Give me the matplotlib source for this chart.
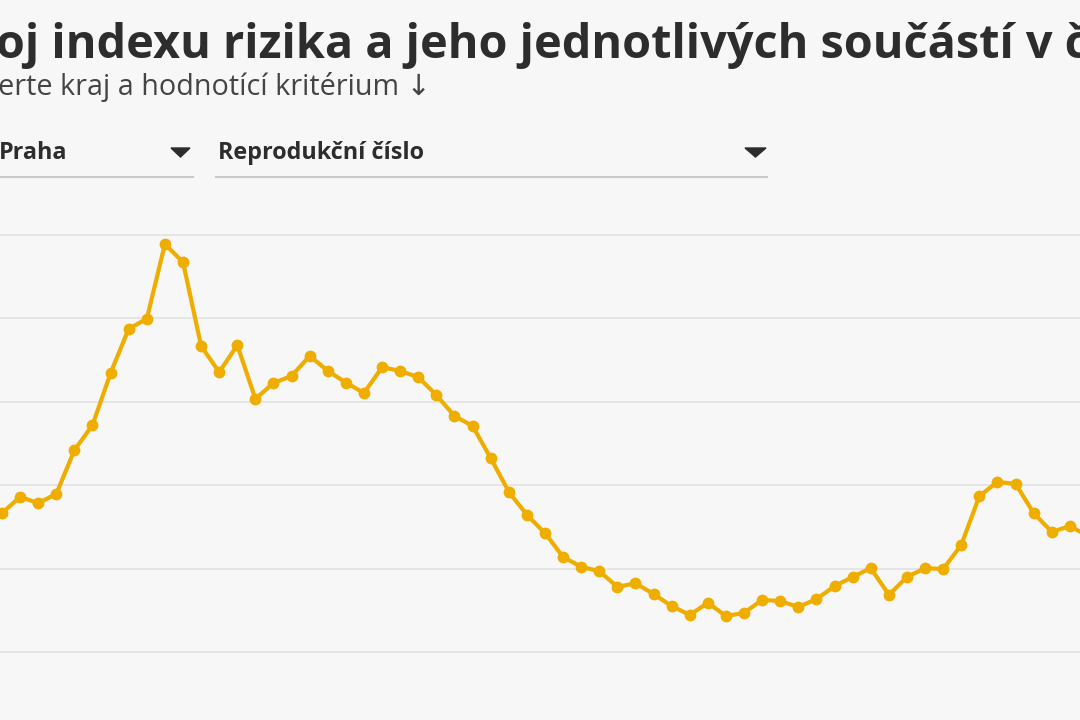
import matplotlib
matplotlib.use("Agg")
import matplotlib.pyplot as plt
from matplotlib.font_manager import FontProperties
from matplotlib.patches import Polygon
from matplotlib.lines import Line2D

# ---------------- data ----------------
title_text = "Vývoj indexu rizika a jeho jednotlivých součástí v čase"
subtitle_text = "Vyberte kraj a hodnotící kritérium ↓"
region_label = "Praha"
criterion_label = "Reprodukční číslo"
grid_values = [0.6, 0.8, 1.0, 1.2, 1.4, 1.6]

reproduction = [
    0.933, 0.972, 0.957, 0.979, 1.084, 1.144, 1.269, 1.375, 1.399, 1.578,
    1.535, 1.334, 1.271, 1.336, 1.207, 1.245, 1.262, 1.310, 1.274, 1.246,
    1.221, 1.283, 1.274, 1.259, 1.216, 1.166, 1.142, 1.065, 0.984, 0.929,
    0.885, 0.828, 0.804, 0.794, 0.756, 0.765, 0.739, 0.710, 0.689, 0.718,
    0.686, 0.694, 0.725, 0.722, 0.708, 0.727, 0.758, 0.780, 0.801, 0.737,
    0.780, 0.801, 0.799, 0.857, 0.974, 1.008, 1.003, 0.933, 0.888, 0.902,
    0.878,
]
days = list(range(len(reproduction)))

# ---------------- styling ----------------
W, H = 1080, 720
BG = "#f7f7f7"
LINE = "#efad00"
TXT = "#2d2d2d"

fig = plt.figure(figsize=(W / 100, H / 100), dpi=100, facecolor=BG)
renderer = fig.canvas.get_renderer()


def fx(px):
    return px / W


def fy(py):
    return 1 - py / H


# plot area spans the whole canvas (the screenshot is cropped)
ax = fig.add_axes([0, 0, 1, 1])
ax.set_facecolor(BG)
k = 0.2 / 83.4  # value per pixel
ax.set_ylim(0.6 - 68 * k, 0.6 + 652 * k)
step = 18.1
ax.set_xlim(-2 / step, (W - 2) / step)
ax.set_yticks(grid_values)
ax.set_xticks([])
ax.grid(axis="y", color="#e4e4e4", lw=1.3)
ax.set_axisbelow(True)
for s in ax.spines.values():
    s.set_visible(False)
ax.tick_params(left=False, labelleft=False, bottom=False, labelbottom=False)

ax.plot(days, reproduction, color=LINE, lw=3.0, marker="o", ms=8.5,
        markeredgewidth=0, solid_joinstyle="round", zorder=3, clip_on=True)


def text_w(s, fp):
    t = fig.text(0, 0, s, fontproperties=fp)
    w = t.get_window_extent(renderer).width
    t.remove()
    return w


fam = ["Open Sans", "DejaVu Sans"]

# ---- title (cropped on both sides) ----
fp = FontProperties(family=fam, weight="bold", size=30)
pre = "Výv"
upto = title_text[: title_text.index("v č") + 3]
span = (text_w(upto, fp) - text_w("č", fp)) - text_w(pre, fp)
size = 30 * (1071 / span)
fp = FontProperties(family=fam, weight="bold", size=size)
x0 = -4 - text_w(pre, fp)
fig.text(fx(x0), fy(58), title_text, fontproperties=fp, color=TXT,
         ha="left", va="baseline")

# ---- subtitle ----
fp2 = FontProperties(family=fam, weight="normal", size=18)
pre2 = "Vyb"
span2 = text_w("Vyberte kraj a hodnotící kritérium", fp2) - text_w(pre2, fp2)
size2 = 18 * (400 / span2)
fp2 = FontProperties(family=fam, weight="normal", size=size2)
x0 = -2 - text_w(pre2, fp2)
fig.text(fx(x0), fy(95), subtitle_text, fontproperties=fp2, color="#444444",
         ha="left", va="baseline")

# ---- dropdowns ----
fp3 = FontProperties(family=fam, weight="bold", size=14)
size3 = 14 * (207 / text_w(criterion_label, fp3))
fp3 = FontProperties(family=fam, weight="bold", size=size3)
fig.text(fx(-1), fy(159), region_label, fontproperties=fp3, color=TXT,
         ha="left", va="baseline")
fig.text(fx(218), fy(159), criterion_label, fontproperties=fp3, color=TXT,
         ha="left", va="baseline")

for (a, b) in [(171, 190), (745, 766)]:
    tri = Polygon([(fx(a), fy(148)), (fx(b), fy(148)), (fx((a + b) / 2), fy(157))],
                  closed=True, transform=fig.transFigure, color="#2d2d2d")
    fig.patches.append(tri)

for (a, b) in [(0, 193), (216, 767)]:
    fig.add_artist(Line2D([fx(a), fx(b)], [fy(177), fy(177)],
                          transform=fig.transFigure, color="#c9c9c9", lw=1.5))

fig.savefig("out.png", dpi=100, facecolor=BG)
